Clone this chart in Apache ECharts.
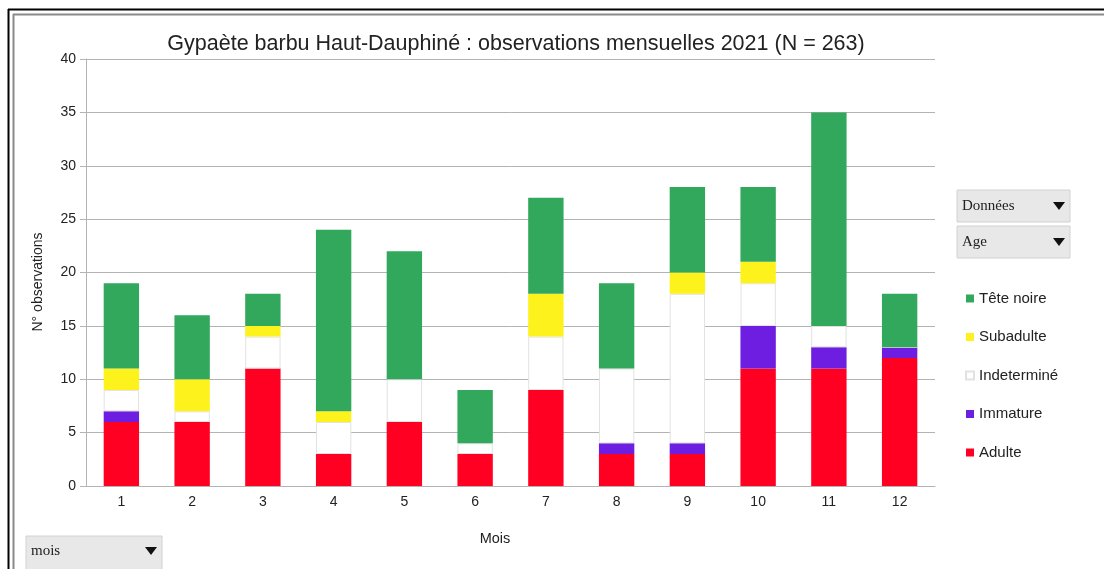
<!DOCTYPE html>
<html>
<head>
<meta charset="utf-8">
<script src="https://cdn.jsdelivr.net/npm/echarts@6/dist/echarts.min.js"></script>
<style>
  html, body { margin: 0; padding: 0; background: #fff; }
  #main { width: 1104px; height: 569px; }
</style>
</head>
<body>
<div id="main"></div>
<script>
  // mois 1..12
  var months = ['1', '2', '3', '4', '5', '6', '7', '8', '9', '10', '11', '12'];
  // empilement du bas vers le haut
  var adulte     = [6, 6, 11, 3, 6, 3, 9, 3, 3, 11, 11, 12];
  var immature   = [1, 0, 0, 0, 0, 0, 0, 1, 1, 4, 2, 1];
  var indetermine = [2, 1, 3, 3, 4, 1, 5, 7, 14, 4, 2, 0];
  var subadulte  = [2, 3, 1, 1, 0, 0, 4, 0, 2, 2, 0, 0];
  var teteNoire  = [8, 6, 3, 17, 12, 5, 9, 8, 8, 7, 20, 5];
  var yTicks = [0, 5, 10, 15, 20, 25, 30, 35, 40];

  var chart = echarts.init(document.getElementById('main'));
  var font = '"Liberation Sans", Arial, sans-serif';
  var serif = '"Liberation Serif", "DejaVu Serif", serif';

  function bar(name, data, color, border) {
    return {
      name: name,
      type: 'bar',
      stack: 'total',
      barWidth: '50%',
      data: data,
      itemStyle: {
        color: color,
        borderColor: border || color,
        borderWidth: border ? 1 : 0
      }
    };
  }

  function dropdown(x, y, w, h, label, ty) {
    var cy = ty || (y + h / 2);
    return [
      { type: 'rect', shape: { x: x, y: y, width: w, height: h },
        style: { fill: '#e8e8e8', stroke: '#d2d2d2', lineWidth: 1 } },
      { type: 'text', x: x + 5, y: cy,
        style: { text: label, font: '15px ' + serif, fill: '#222', verticalAlign: 'middle' } },
      { type: 'polygon', shape: { points: [[x + w - 17, cy - 4], [x + w - 5, cy - 4], [x + w - 11, cy + 4]] },
        style: { fill: '#111' } }
    ];
  }

  var graphics = [
    { type: 'line', shape: { x1: 8, y1: 9.5, x2: 1104, y2: 9.5 }, style: { stroke: '#000', lineWidth: 2 } },
    { type: 'line', shape: { x1: 8.5, y1: 9, x2: 8.5, y2: 569 }, style: { stroke: '#000', lineWidth: 2 } },
    { type: 'line', shape: { x1: 13, y1: 14.5, x2: 1104, y2: 14.5 }, style: { stroke: '#8a8a8a', lineWidth: 2 } },
    { type: 'line', shape: { x1: 13.5, y1: 14, x2: 13.5, y2: 569 }, style: { stroke: '#8a8a8a', lineWidth: 2 } },
    // titres des axes
    { type: 'text', x: 38, y: 282, rotation: Math.PI / 2,
      style: { text: 'N° observations', font: '14px ' + font, fill: '#222', align: 'center', verticalAlign: 'middle' } },
    { type: 'text', x: 495, y: 539,
      style: { text: 'Mois', font: '14.5px ' + font, fill: '#222', align: 'center', verticalAlign: 'middle' } }
  ].concat(dropdown(957, 190, 113, 32, 'Données'))
   .concat(dropdown(957, 226, 113, 32, 'Age'))
   .concat(dropdown(26, 536, 136, 36, 'mois', 551));

  chart.setOption({
    animation: false,
    backgroundColor: '#fff',
    title: {
      text: 'Gypaète barbu Haut-Dauphiné : observations mensuelles 2021 (N = 263)',
      left: 511,
      textAlign: 'center',
      top: 28,
      textStyle: { fontFamily: font, fontSize: 21.5, fontWeight: 'normal', color: '#222' }
    },
    legend: {
      orient: 'vertical',
      left: 960,
      top: 286,
      icon: 'rect',
      itemWidth: 8,
      itemHeight: 8,
      itemGap: 23.5,
      textStyle: { fontFamily: font, fontSize: 15, color: '#222' },
      data: ['Tête noire', 'Subadulte', 'Indeterminé', 'Immature', 'Adulte']
    },
    grid: { left: 86, right: 169, top: 59, bottom: 83 },
    xAxis: {
      type: 'category',
      data: months,
      axisLine: { lineStyle: { color: '#b3b3b3' } },
      axisTick: { length: 5, lineStyle: { color: '#b3b3b3' } },
      axisLabel: { fontFamily: font, fontSize: 14, color: '#222', margin: 9 }
    },
    yAxis: {
      type: 'value',
      min: yTicks[0],
      max: yTicks[yTicks.length - 1],
      interval: 5,
      axisLine: { show: true, lineStyle: { color: '#b3b3b3' } },
      axisTick: { show: true, length: 6, lineStyle: { color: '#b3b3b3' } },
      axisLabel: { fontFamily: font, fontSize: 14, color: '#222', margin: 10 },
      splitLine: { lineStyle: { color: '#b3b3b3' } }
    },
    series: [
      bar('Adulte', adulte, '#ff0022'),
      bar('Immature', immature, '#6e1ee0'),
      bar('Indeterminé', indetermine, '#ffffff', '#e2e2e2'),
      bar('Subadulte', subadulte, '#fdf21c'),
      bar('Tête noire', teteNoire, '#32a85c')
    ],
    graphic: graphics
  });
</script>
</body>
</html>
